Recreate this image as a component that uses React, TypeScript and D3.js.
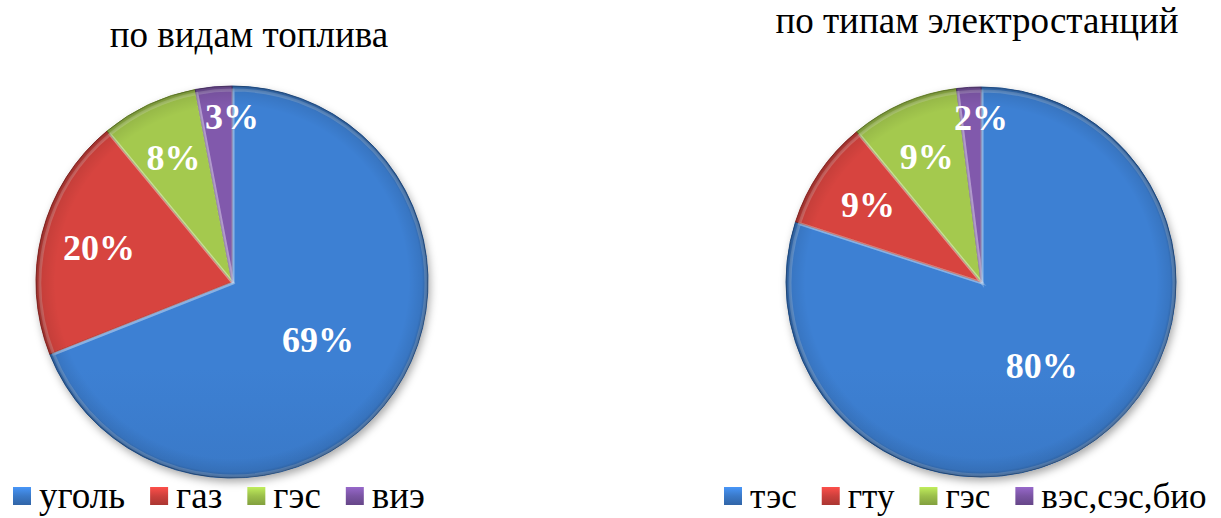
import { useLayoutEffect, useRef, useState } from "react";
import { arc, pie, color } from "d3";

const fuelTitle = "по видам топлива";
const fuelLabels = ["уголь", "газ", "гэс", "виэ"];
const fuelValues = [69, 20, 8, 3];

const plantTitle = "по типам электростанций";
const plantLabels = ["тэс", "гту", "гэс", "вэс,сэс,био"];
const plantValues = [80, 9, 9, 2];

const sliceColors = ["#3a79c8", "#cc403c", "#9bbf4a", "#7a54a3"];

const width = 1221;
const height = 518;
const serif = "Liberation Serif";

type PieProps = {
  id: string;
  cx: number;
  cy: number;
  radius: number;
  title: string;
  titleX: number;
  titleY: number;
  labels: string[];
  values: number[];
  legendX: number;
  legendY: number;
  legendSize: number;
};

function PieChart({ id, cx, cy, radius, title, titleX, titleY, labels, values, legendX, legendY, legendSize }: PieProps) {
  const legendRef = useRef<SVGGElement>(null);
  const [textWidths, setTextWidths] = useState<number[]>(labels.map((l) => l.length * 18));

  // legend items sit one after another, so measure the real text first
  useLayoutEffect(() => {
    const nodes = legendRef.current?.querySelectorAll("text");
    if (!nodes) return;
    setTextWidths(Array.from(nodes).map((n) => (n as SVGTextElement).getComputedTextLength()));
  }, [labels]);

  const slices = pie<number>().sort(null).value((d) => d)(values);
  const total = values.reduce((a, b) => a + b, 0);
  const slicePath = arc<any>().innerRadius(0).outerRadius(radius);
  const innerEdge = arc<any>().innerRadius(0).outerRadius(radius - 3);

  let cursor = legendX;
  const legendItems = labels.map((label, i) => {
    const x = cursor;
    cursor += 18 + 8 + textWidths[i] + 25;
    return { label, x, i };
  });

  return (
    <g>
      <defs>
        {sliceColors.map((c, i) => {
          const base = color(c)!;
          return (
            <linearGradient key={i} id={`${id}-fill-${i}`} x1="0" y1={cy - radius} x2="0" y2={cy + radius} gradientUnits="userSpaceOnUse">
              <stop offset="0" stopColor={base.brighter(0.15).formatHex()} />
              <stop offset="1" stopColor={base.darker(0.45).formatHex()} />
            </linearGradient>
          );
        })}
        <radialGradient id={`${id}-rim`} cx={cx} cy={cy} r={radius} gradientUnits="userSpaceOnUse">
          <stop offset="0.9" stopColor="#000" stopOpacity="0" />
          <stop offset="0.97" stopColor="#000" stopOpacity="0.08" />
          <stop offset="1" stopColor="#000" stopOpacity="0.3" />
        </radialGradient>
        {sliceColors.map((c, i) => (
          <linearGradient key={`lg${i}`} id={`${id}-key-${i}`} x1="0" y1="0" x2="0" y2="1">
            <stop offset="0" stopColor={color(c)!.brighter(0.6).formatHex()} />
            <stop offset="0.5" stopColor={c} />
            <stop offset="1" stopColor={color(c)!.darker(0.5).formatHex()} />
          </linearGradient>
        ))}
      </defs>

      <text x={titleX} y={titleY} textAnchor="middle" fontFamily={serif} fontSize={37} fill="#000">
        {title}
      </text>

      <g transform={`translate(${cx}, ${cy})`} filter="url(#shadow)">
        {slices.map((s, i) => (
          <path key={i} d={slicePath(s) ?? ""} fill={sliceColors[i]} />
        ))}
      </g>
      <g transform={`translate(${cx}, ${cy})`}>
        {slices.map((s, i) => (
          <path
            key={i}
            d={slicePath(s) ?? ""}
            fill={`url(#${id}-fill-${i})`}
            stroke={color(sliceColors[i])!.darker(0.8).formatHex()}
            strokeWidth={1}
            strokeLinejoin="round"
          />
        ))}
        {slices.map((s, i) => (
          <path
            key={`h${i}`}
            d={innerEdge(s) ?? ""}
            fill="none"
            stroke="#fff"
            strokeOpacity={0.22}
            strokeWidth={3}
            transform="translate(1, 1)"
          />
        ))}
      </g>
      <circle cx={cx} cy={cy} r={radius} fill={`url(#${id}-rim)`} />

      {slices.map((s, i) => {
        const share = s.value / total;
        const angle = share < 0.05 ? s.endAngle : (s.startAngle + s.endAngle) / 2;
        const k = share > 0.5 ? 0.53 : share < 0.05 ? 0.84 : 0.7;
        const x = cx + Math.sin(angle) * radius * k;
        const y = cy - Math.cos(angle) * radius * k;
        return (
          <text
            key={`t${i}`}
            x={x}
            y={y}
            textAnchor="middle"
            dominantBaseline="central"
            fontFamily={serif}
            fontWeight="bold"
            fontSize={36}
            fill="#fff"
          >
            {`${s.value}%`}
          </text>
        );
      })}

      <g ref={legendRef}>
        {legendItems.map((item) => (
          <text key={item.label} x={item.x + 26} y={legendY} fontFamily={serif} fontSize={legendSize} fill="#000">
            {item.label}
          </text>
        ))}
      </g>
      {legendItems.map((item) => (
        <rect key={item.label} x={item.x} y={legendY - 21} width={18} height={18} fill={`url(#${id}-key-${item.i})`} />
      ))}
    </g>
  );
}

export default function App() {
  return (
    <svg
      width={width}
      height={height}
      viewBox={`0 0 ${width} ${height}`}
      style={{ position: "absolute", left: 0, top: 0, background: "#fff" }}
    >
      <defs>
        <filter id="shadow" x="-20%" y="-20%" width="140%" height="140%">
          <feDropShadow dx="2" dy="4" stdDeviation="4" floodColor="#000" floodOpacity="0.35" />
        </filter>
      </defs>
      <PieChart
        id="fuel"
        cx={232}
        cy={282}
        radius={196}
        title={fuelTitle}
        titleX={249}
        titleY={47}
        labels={fuelLabels}
        values={fuelValues}
        legendX={13}
        legendY={508}
        legendSize={37}
      />
      <PieChart
        id="plant"
        cx={981}
        cy={282}
        radius={195}
        title={plantTitle}
        titleX={977}
        titleY={33}
        labels={plantLabels}
        values={plantValues}
        legendX={724}
        legendY={508}
        legendSize={35}
      />
    </svg>
  );
}
